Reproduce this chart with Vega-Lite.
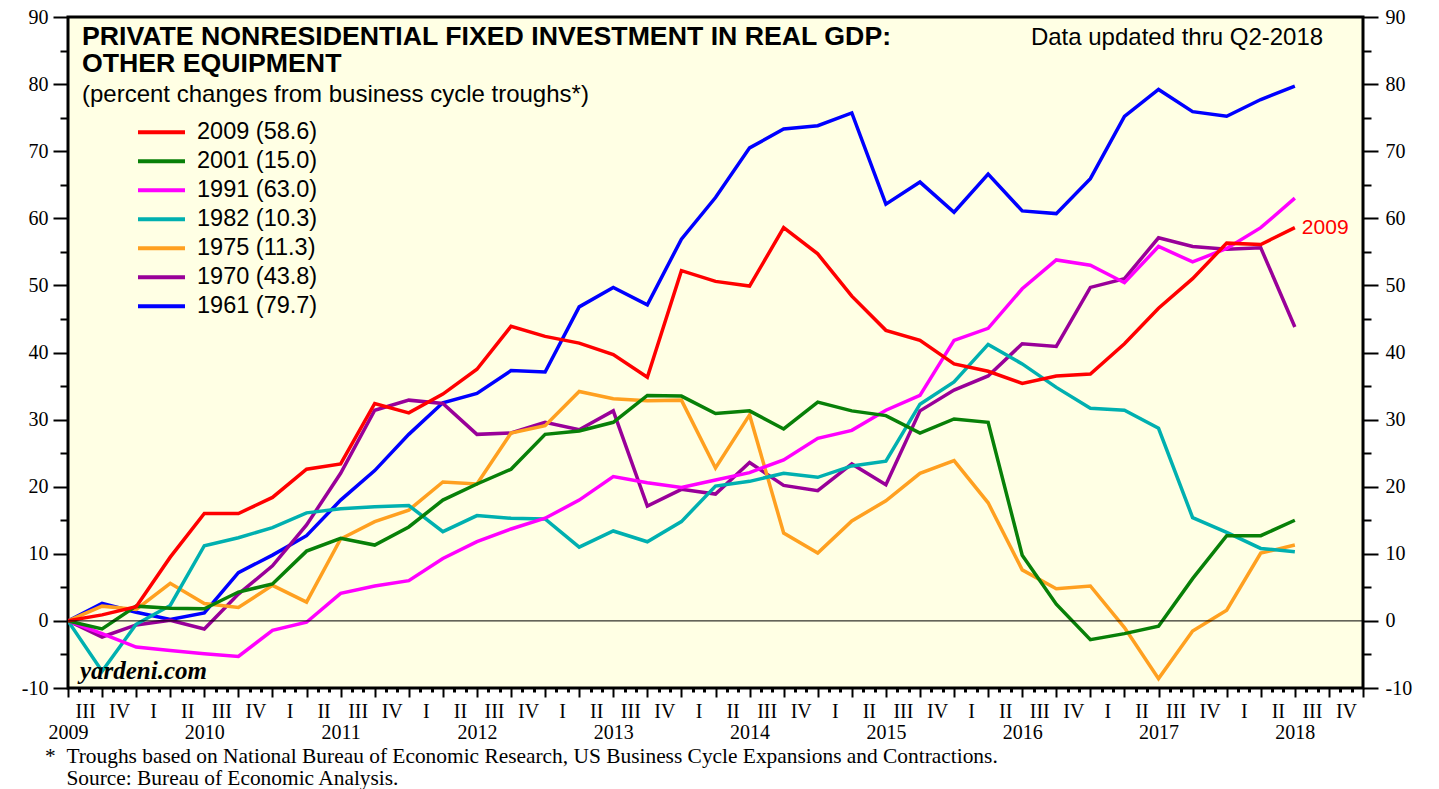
{
"$schema":"https://vega.github.io/schema/vega-lite/v6.json",
"width":1295,"height":671,
"autosize":{"type":"none"},
"padding":{"left":68,"top":17,"right":76,"bottom":101},
"background":"white",
"config":{"view":{"fill":"#ffffe4","stroke":"black","strokeWidth":3},
"axis":{"grid":false,"domain":false,"title":null,"tickColor":"black","labelColor":"black","labelFont":"Liberation Serif","labelFontSize":20,"labelFlush":false,"labelOverlap":false,"labelBound":false}},
"title":{"text":["*\u00a0\u00a0Troughs based on National Bureau of Economic Research, US Business Cycle Expansions and Contractions.","\u200b\u00a0\u00a0\u00a0\u00a0Source: Bureau of Economic Analysis."],"orient":"bottom","anchor":"start","frame":"group","font":"Liberation Serif","fontSize":21.4,"fontWeight":"normal","color":"black","lineHeight":21.5,"dx":-23,"offset":4},
"layer":[
{"data":{"values":[
{"q":0,"s":"1961 (79.7)","v":0},{"q":1,"s":"1961 (79.7)","v":2.6},{"q":2,"s":"1961 (79.7)","v":1.3},{"q":3,"s":"1961 (79.7)","v":0.2},{"q":4,"s":"1961 (79.7)","v":1.2},{"q":5,"s":"1961 (79.7)","v":7.2},{"q":6,"s":"1961 (79.7)","v":9.8},{"q":7,"s":"1961 (79.7)","v":12.7},{"q":8,"s":"1961 (79.7)","v":18.0},{"q":9,"s":"1961 (79.7)","v":22.4},{"q":10,"s":"1961 (79.7)","v":27.8},{"q":11,"s":"1961 (79.7)","v":32.5},{"q":12,"s":"1961 (79.7)","v":33.9},{"q":13,"s":"1961 (79.7)","v":37.3},{"q":14,"s":"1961 (79.7)","v":37.1},{"q":15,"s":"1961 (79.7)","v":46.8},{"q":16,"s":"1961 (79.7)","v":49.7},{"q":17,"s":"1961 (79.7)","v":47.1},{"q":18,"s":"1961 (79.7)","v":56.9},{"q":19,"s":"1961 (79.7)","v":63.1},{"q":20,"s":"1961 (79.7)","v":70.5},{"q":21,"s":"1961 (79.7)","v":73.3},{"q":22,"s":"1961 (79.7)","v":73.8},{"q":23,"s":"1961 (79.7)","v":75.7},{"q":24,"s":"1961 (79.7)","v":62.1},{"q":25,"s":"1961 (79.7)","v":65.4},{"q":26,"s":"1961 (79.7)","v":60.9},{"q":27,"s":"1961 (79.7)","v":66.6},{"q":28,"s":"1961 (79.7)","v":61.1},{"q":29,"s":"1961 (79.7)","v":60.7},{"q":30,"s":"1961 (79.7)","v":65.9},{"q":31,"s":"1961 (79.7)","v":75.2},{"q":32,"s":"1961 (79.7)","v":79.2},{"q":33,"s":"1961 (79.7)","v":75.9},{"q":34,"s":"1961 (79.7)","v":75.2},{"q":35,"s":"1961 (79.7)","v":77.7},{"q":36,"s":"1961 (79.7)","v":79.7},
{"q":0,"s":"1970 (43.8)","v":0},{"q":1,"s":"1970 (43.8)","v":-2.4},{"q":2,"s":"1970 (43.8)","v":-0.6},{"q":3,"s":"1970 (43.8)","v":0.1},{"q":4,"s":"1970 (43.8)","v":-1.2},{"q":5,"s":"1970 (43.8)","v":4.0},{"q":6,"s":"1970 (43.8)","v":8.2},{"q":7,"s":"1970 (43.8)","v":14.3},{"q":8,"s":"1970 (43.8)","v":22.0},{"q":9,"s":"1970 (43.8)","v":31.4},{"q":10,"s":"1970 (43.8)","v":32.9},{"q":11,"s":"1970 (43.8)","v":32.4},{"q":12,"s":"1970 (43.8)","v":27.8},{"q":13,"s":"1970 (43.8)","v":28.0},{"q":14,"s":"1970 (43.8)","v":29.6},{"q":15,"s":"1970 (43.8)","v":28.5},{"q":16,"s":"1970 (43.8)","v":31.3},{"q":17,"s":"1970 (43.8)","v":17.1},{"q":18,"s":"1970 (43.8)","v":19.6},{"q":19,"s":"1970 (43.8)","v":18.9},{"q":20,"s":"1970 (43.8)","v":23.6},{"q":21,"s":"1970 (43.8)","v":20.2},{"q":22,"s":"1970 (43.8)","v":19.4},{"q":23,"s":"1970 (43.8)","v":23.4},{"q":24,"s":"1970 (43.8)","v":20.3},{"q":25,"s":"1970 (43.8)","v":31.3},{"q":26,"s":"1970 (43.8)","v":34.4},{"q":27,"s":"1970 (43.8)","v":36.5},{"q":28,"s":"1970 (43.8)","v":41.3},{"q":29,"s":"1970 (43.8)","v":40.9},{"q":30,"s":"1970 (43.8)","v":49.7},{"q":31,"s":"1970 (43.8)","v":51.0},{"q":32,"s":"1970 (43.8)","v":57.1},{"q":33,"s":"1970 (43.8)","v":55.8},{"q":34,"s":"1970 (43.8)","v":55.4},{"q":35,"s":"1970 (43.8)","v":55.6},{"q":36,"s":"1970 (43.8)","v":43.8},
{"q":0,"s":"1975 (11.3)","v":0},{"q":1,"s":"1975 (11.3)","v":2.2},{"q":2,"s":"1975 (11.3)","v":1.7},{"q":3,"s":"1975 (11.3)","v":5.6},{"q":4,"s":"1975 (11.3)","v":2.6},{"q":5,"s":"1975 (11.3)","v":2.0},{"q":6,"s":"1975 (11.3)","v":5.3},{"q":7,"s":"1975 (11.3)","v":2.8},{"q":8,"s":"1975 (11.3)","v":12.2},{"q":9,"s":"1975 (11.3)","v":14.8},{"q":10,"s":"1975 (11.3)","v":16.5},{"q":11,"s":"1975 (11.3)","v":20.7},{"q":12,"s":"1975 (11.3)","v":20.4},{"q":13,"s":"1975 (11.3)","v":28.0},{"q":14,"s":"1975 (11.3)","v":29.1},{"q":15,"s":"1975 (11.3)","v":34.2},{"q":16,"s":"1975 (11.3)","v":33.1},{"q":17,"s":"1975 (11.3)","v":32.8},{"q":18,"s":"1975 (11.3)","v":32.9},{"q":19,"s":"1975 (11.3)","v":22.8},{"q":20,"s":"1975 (11.3)","v":30.7},{"q":21,"s":"1975 (11.3)","v":13.1},{"q":22,"s":"1975 (11.3)","v":10.1},{"q":23,"s":"1975 (11.3)","v":14.9},{"q":24,"s":"1975 (11.3)","v":17.9},{"q":25,"s":"1975 (11.3)","v":22.0},{"q":26,"s":"1975 (11.3)","v":23.9},{"q":27,"s":"1975 (11.3)","v":17.6},{"q":28,"s":"1975 (11.3)","v":7.6},{"q":29,"s":"1975 (11.3)","v":4.8},{"q":30,"s":"1975 (11.3)","v":5.2},{"q":31,"s":"1975 (11.3)","v":-1.0},{"q":32,"s":"1975 (11.3)","v":-8.6},{"q":33,"s":"1975 (11.3)","v":-1.5},{"q":34,"s":"1975 (11.3)","v":1.6},{"q":35,"s":"1975 (11.3)","v":10.1},{"q":36,"s":"1975 (11.3)","v":11.3},
{"q":0,"s":"1982 (10.3)","v":0},{"q":1,"s":"1982 (10.3)","v":-7.5},{"q":2,"s":"1982 (10.3)","v":-0.5},{"q":3,"s":"1982 (10.3)","v":2.3},{"q":4,"s":"1982 (10.3)","v":11.2},{"q":5,"s":"1982 (10.3)","v":12.4},{"q":6,"s":"1982 (10.3)","v":13.9},{"q":7,"s":"1982 (10.3)","v":16.1},{"q":8,"s":"1982 (10.3)","v":16.7},{"q":9,"s":"1982 (10.3)","v":17.0},{"q":10,"s":"1982 (10.3)","v":17.2},{"q":11,"s":"1982 (10.3)","v":13.3},{"q":12,"s":"1982 (10.3)","v":15.7},{"q":13,"s":"1982 (10.3)","v":15.3},{"q":14,"s":"1982 (10.3)","v":15.2},{"q":15,"s":"1982 (10.3)","v":11.0},{"q":16,"s":"1982 (10.3)","v":13.4},{"q":17,"s":"1982 (10.3)","v":11.8},{"q":18,"s":"1982 (10.3)","v":14.8},{"q":19,"s":"1982 (10.3)","v":20.1},{"q":20,"s":"1982 (10.3)","v":20.8},{"q":21,"s":"1982 (10.3)","v":22.0},{"q":22,"s":"1982 (10.3)","v":21.4},{"q":23,"s":"1982 (10.3)","v":23.1},{"q":24,"s":"1982 (10.3)","v":23.8},{"q":25,"s":"1982 (10.3)","v":32.3},{"q":26,"s":"1982 (10.3)","v":35.6},{"q":27,"s":"1982 (10.3)","v":41.2},{"q":28,"s":"1982 (10.3)","v":38.3},{"q":29,"s":"1982 (10.3)","v":34.8},{"q":30,"s":"1982 (10.3)","v":31.7},{"q":31,"s":"1982 (10.3)","v":31.4},{"q":32,"s":"1982 (10.3)","v":28.7},{"q":33,"s":"1982 (10.3)","v":15.4},{"q":34,"s":"1982 (10.3)","v":13.2},{"q":35,"s":"1982 (10.3)","v":10.8},{"q":36,"s":"1982 (10.3)","v":10.3},
{"q":0,"s":"1991 (63.0)","v":0},{"q":1,"s":"1991 (63.0)","v":-1.9},{"q":2,"s":"1991 (63.0)","v":-3.9},{"q":3,"s":"1991 (63.0)","v":-4.4},{"q":4,"s":"1991 (63.0)","v":-4.9},{"q":5,"s":"1991 (63.0)","v":-5.3},{"q":6,"s":"1991 (63.0)","v":-1.4},{"q":7,"s":"1991 (63.0)","v":-0.2},{"q":8,"s":"1991 (63.0)","v":4.1},{"q":9,"s":"1991 (63.0)","v":5.2},{"q":10,"s":"1991 (63.0)","v":6.0},{"q":11,"s":"1991 (63.0)","v":9.3},{"q":12,"s":"1991 (63.0)","v":11.8},{"q":13,"s":"1991 (63.0)","v":13.7},{"q":14,"s":"1991 (63.0)","v":15.3},{"q":15,"s":"1991 (63.0)","v":18.0},{"q":16,"s":"1991 (63.0)","v":21.5},{"q":17,"s":"1991 (63.0)","v":20.6},{"q":18,"s":"1991 (63.0)","v":19.9},{"q":19,"s":"1991 (63.0)","v":21.0},{"q":20,"s":"1991 (63.0)","v":22.1},{"q":21,"s":"1991 (63.0)","v":24.0},{"q":22,"s":"1991 (63.0)","v":27.2},{"q":23,"s":"1991 (63.0)","v":28.4},{"q":24,"s":"1991 (63.0)","v":31.4},{"q":25,"s":"1991 (63.0)","v":33.6},{"q":26,"s":"1991 (63.0)","v":41.8},{"q":27,"s":"1991 (63.0)","v":43.6},{"q":28,"s":"1991 (63.0)","v":49.5},{"q":29,"s":"1991 (63.0)","v":53.8},{"q":30,"s":"1991 (63.0)","v":53.0},{"q":31,"s":"1991 (63.0)","v":50.4},{"q":32,"s":"1991 (63.0)","v":55.8},{"q":33,"s":"1991 (63.0)","v":53.5},{"q":34,"s":"1991 (63.0)","v":55.5},{"q":35,"s":"1991 (63.0)","v":58.6},{"q":36,"s":"1991 (63.0)","v":63.0},
{"q":0,"s":"2001 (15.0)","v":0},{"q":1,"s":"2001 (15.0)","v":-1.2},{"q":2,"s":"2001 (15.0)","v":2.2},{"q":3,"s":"2001 (15.0)","v":1.9},{"q":4,"s":"2001 (15.0)","v":1.8},{"q":5,"s":"2001 (15.0)","v":4.3},{"q":6,"s":"2001 (15.0)","v":5.5},{"q":7,"s":"2001 (15.0)","v":10.4},{"q":8,"s":"2001 (15.0)","v":12.3},{"q":9,"s":"2001 (15.0)","v":11.3},{"q":10,"s":"2001 (15.0)","v":14.0},{"q":11,"s":"2001 (15.0)","v":18.0},{"q":12,"s":"2001 (15.0)","v":20.4},{"q":13,"s":"2001 (15.0)","v":22.6},{"q":14,"s":"2001 (15.0)","v":27.8},{"q":15,"s":"2001 (15.0)","v":28.3},{"q":16,"s":"2001 (15.0)","v":29.6},{"q":17,"s":"2001 (15.0)","v":33.6},{"q":18,"s":"2001 (15.0)","v":33.5},{"q":19,"s":"2001 (15.0)","v":30.9},{"q":20,"s":"2001 (15.0)","v":31.3},{"q":21,"s":"2001 (15.0)","v":28.6},{"q":22,"s":"2001 (15.0)","v":32.6},{"q":23,"s":"2001 (15.0)","v":31.3},{"q":24,"s":"2001 (15.0)","v":30.6},{"q":25,"s":"2001 (15.0)","v":28.0},{"q":26,"s":"2001 (15.0)","v":30.1},{"q":27,"s":"2001 (15.0)","v":29.6},{"q":28,"s":"2001 (15.0)","v":9.8},{"q":29,"s":"2001 (15.0)","v":2.5},{"q":30,"s":"2001 (15.0)","v":-2.8},{"q":31,"s":"2001 (15.0)","v":-1.9},{"q":32,"s":"2001 (15.0)","v":-0.8},{"q":33,"s":"2001 (15.0)","v":6.3},{"q":34,"s":"2001 (15.0)","v":12.7},{"q":35,"s":"2001 (15.0)","v":12.7},{"q":36,"s":"2001 (15.0)","v":15.0},
{"q":0,"s":"2009 (58.6)","v":0},{"q":1,"s":"2009 (58.6)","v":0.9},{"q":2,"s":"2009 (58.6)","v":2.1},{"q":3,"s":"2009 (58.6)","v":9.5},{"q":4,"s":"2009 (58.6)","v":16.0},{"q":5,"s":"2009 (58.6)","v":16.0},{"q":6,"s":"2009 (58.6)","v":18.4},{"q":7,"s":"2009 (58.6)","v":22.6},{"q":8,"s":"2009 (58.6)","v":23.4},{"q":9,"s":"2009 (58.6)","v":32.4},{"q":10,"s":"2009 (58.6)","v":31.0},{"q":11,"s":"2009 (58.6)","v":33.8},{"q":12,"s":"2009 (58.6)","v":37.5},{"q":13,"s":"2009 (58.6)","v":43.9},{"q":14,"s":"2009 (58.6)","v":42.4},{"q":15,"s":"2009 (58.6)","v":41.4},{"q":16,"s":"2009 (58.6)","v":39.7},{"q":17,"s":"2009 (58.6)","v":36.3},{"q":18,"s":"2009 (58.6)","v":52.2},{"q":19,"s":"2009 (58.6)","v":50.6},{"q":20,"s":"2009 (58.6)","v":49.9},{"q":21,"s":"2009 (58.6)","v":58.6},{"q":22,"s":"2009 (58.6)","v":54.7},{"q":23,"s":"2009 (58.6)","v":48.4},{"q":24,"s":"2009 (58.6)","v":43.3},{"q":25,"s":"2009 (58.6)","v":41.8},{"q":26,"s":"2009 (58.6)","v":38.3},{"q":27,"s":"2009 (58.6)","v":37.2},{"q":28,"s":"2009 (58.6)","v":35.4},{"q":29,"s":"2009 (58.6)","v":36.5},{"q":30,"s":"2009 (58.6)","v":36.8},{"q":31,"s":"2009 (58.6)","v":41.3},{"q":32,"s":"2009 (58.6)","v":46.6},{"q":33,"s":"2009 (58.6)","v":51.0},{"q":34,"s":"2009 (58.6)","v":56.3},{"q":35,"s":"2009 (58.6)","v":56.1},{"q":36,"s":"2009 (58.6)","v":58.6}
]},
"mark":{"type":"line","strokeWidth":3.5,"strokeJoin":"miter","clip":true},
"encoding":{
"x":{"field":"q","type":"quantitative","scale":{"domain":[0,38],"nice":false,"zero":false},"axis":{"orient":"bottom","values":[0,1,2,3,4,5,6,7,8,9,10,11,12,13,14,15,16,17,18,19,20,21,22,23,24,25,26,27,28,29,30,31,32,33,34,35,36,37,38],"labels":false,"tickSize":9,"tickWidth":2}},
"y":{"field":"v","type":"quantitative","scale":{"domain":[-10,90],"nice":false,"zero":false},"axis":{"orient":"left","values":[-10,0,10,20,30,40,50,60,70,80,90],"labelExpr":"'' + datum.value","tickSize":15,"tickWidth":2,"labelPadding":5}},
"color":{"field":"s","type":"nominal","sort":null,"scale":{"domain":["2009 (58.6)","2001 (15.0)","1991 (63.0)","1982 (10.3)","1975 (11.3)","1970 (43.8)","1961 (79.7)"],"range":["#ff0000","#088008","#ff00ff","#00b0b0","#ffa020","#990099","#0000ff"]},
"legend":{"orient":"none","legendX":68,"legendY":101,"title":null,"symbolType":"stroke","symbolSize":2209,"symbolStrokeWidth":4,"labelFont":"Liberation Sans","labelFontSize":23.5,"labelColor":"black","labelOffset":10,"clipHeight":28.7,"rowPadding":0,"padding":0}}
}},
{"data":{"values":[{}]},"mark":{"type":"rule","color":"black","strokeWidth":1},
"encoding":{
"x":{"datum":0,"type":"quantitative","axis":{"orient":"bottom","values":[0.5,1.5,2.5,3.5,4.5,5.5,6.5,7.5,8.5,9.5,10.5,11.5,12.5,13.5,14.5,15.5,16.5,17.5,18.5,19.5,20.5,21.5,22.5,23.5,24.5,25.5,26.5,27.5,28.5,29.5,30.5,31.5,32.5,33.5,34.5,35.5,36.5,37.5],"ticks":false,"tickSize":0,"labelPadding":29,"labelBaseline":"alphabetic","labelExpr":"(floor(datum.value)%4==0)?'III':(floor(datum.value)%4==1)?'IV':(floor(datum.value)%4==2)?'I':'II'"}},
"x2":{"datum":38},
"y":{"datum":0,"type":"quantitative","axis":{"orient":"right","values":[-10,0,10,20,30,40,50,60,70,80,90],"labelExpr":"'' + datum.value","tickSize":15,"tickWidth":2,"labelPadding":7}}
}},
{"data":{"values":[{}]},"mark":{"type":"text","text":"2009","color":"#ff0000","font":"Liberation Sans","fontSize":21,"align":"left","baseline":"middle","dx":7},
"encoding":{
"x":{"datum":36,"type":"quantitative","axis":{"orient":"bottom","values":[0,4,8,12,16,20,24,28,32,36],"ticks":false,"tickSize":0,"labelPadding":50,"labelBaseline":"alphabetic","labelExpr":"'' + (2009 + datum.value/4)"}},
"y":{"datum":58.6,"type":"quantitative","axis":{"orient":"left","values":[-5,5,15,25,35,45,55,65,75,85],"labels":false,"tickSize":8,"tickWidth":2}}
}},
{"data":{"values":[{}]},"mark":{"type":"text","text":["PRIVATE NONRESIDENTIAL FIXED INVESTMENT IN REAL GDP:","OTHER EQUIPMENT"],"color":"black","font":"Liberation Sans","fontWeight":"bold","fontSize":26.7,"lineHeight":27,"align":"left","baseline":"alphabetic"},
"encoding":{
"x":{"datum":0.41,"type":"quantitative","axis":{"orient":"bottom","values":[0.333,0.667,1.333,1.667,2.333,2.667,3.333,3.667,4.333,4.667,5.333,5.667,6.333,6.667,7.333,7.667,8.333,8.667,9.333,9.667,10.333,10.667,11.333,11.667,12.333,12.667,13.333,13.667,14.333,14.667,15.333,15.667,16.333,16.667,17.333,17.667,18.333,18.667,19.333,19.667,20.333,20.667,21.333,21.667,22.333,22.667,23.333,23.667,24.333,24.667,25.333,25.667,26.333,26.667,27.333,27.667,28.333,28.667,29.333,29.667,30.333,30.667,31.333,31.667,32.333,32.667,33.333,33.667,34.333,34.667,35.333,35.667,36.333,36.667,37.333,37.667],"labels":false,"tickSize":4,"tickWidth":3}},
"y":{"datum":85.8,"type":"quantitative","axis":{"orient":"right","values":[-5,5,15,25,35,45,55,65,75,85],"labels":false,"tickSize":8,"tickWidth":2}}
}},
{"data":{"values":[{}]},"mark":{"type":"text","text":"(percent changes from business cycle troughs*)","color":"black","font":"Liberation Sans","fontSize":24,"align":"left","baseline":"alphabetic"},
"encoding":{"x":{"datum":0.41,"type":"quantitative","axis":null},"y":{"datum":77.4,"type":"quantitative","axis":null}}},
{"data":{"values":[{}]},"mark":{"type":"text","text":"Data updated thru Q2-2018","color":"black","font":"Liberation Sans","fontSize":24,"align":"right","baseline":"alphabetic"},
"encoding":{"x":{"datum":36.83,"type":"quantitative","axis":null},"y":{"datum":85.8,"type":"quantitative","axis":null}}},
{"data":{"values":[{}]},"mark":{"type":"text","text":"yardeni.com","color":"black","font":"Liberation Serif","fontWeight":"bold","fontStyle":"italic","fontSize":25,"align":"left","baseline":"alphabetic"},
"encoding":{"x":{"datum":0.35,"type":"quantitative","axis":null},"y":{"datum":-8.6,"type":"quantitative","axis":null}}}
],
"resolve":{"axis":{"x":"independent","y":"independent"}}
}
